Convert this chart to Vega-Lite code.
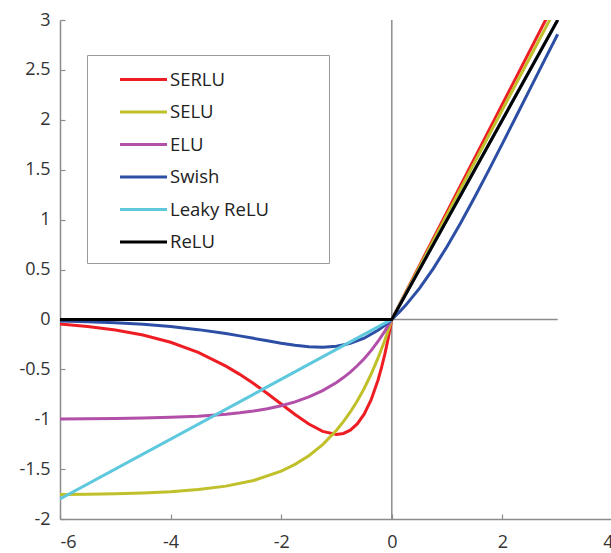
{
  "$schema": "https://vega.github.io/schema/vega-lite/v6.json",
  "autosize": {"type": "none"},
  "padding": {"left": 60, "top": 20, "right": 0, "bottom": 34},
  "width": 553,
  "height": 499,
  "background": "white",
  "config": {
    "view": {"stroke": null},
    "axis": {"grid": false, "domainColor": "#8c8c8c", "domainWidth": 1.5, "tickColor": "#8c8c8c", "tickWidth": 1.2, "tickSize": -5, "labelFont": "Open Sans", "labelFontSize": 18, "labelColor": "#333333", "title": null, "labelExpr": "toString(datum.value)"}
  },
  "datasets": {
    "curves": [
      {"fn": "SERLU", "x": -6, "y": -0.0466}, {"fn": "SERLU", "x": -5.5, "y": -0.0704}, {"fn": "SERLU", "x": -5, "y": -0.1055}, {"fn": "SERLU", "x": -4.5, "y": -0.1566}, {"fn": "SERLU", "x": -4, "y": -0.2295}, {"fn": "SERLU", "x": -3.5, "y": -0.3311}, {"fn": "SERLU", "x": -3, "y": -0.4679}, {"fn": "SERLU", "x": -2.75, "y": -0.5507}, {"fn": "SERLU", "x": -2.5, "y": -0.6429}, {"fn": "SERLU", "x": -2.25, "y": -0.7429}, {"fn": "SERLU", "x": -2, "y": -0.8479}, {"fn": "SERLU", "x": -1.75, "y": -0.9526}, {"fn": "SERLU", "x": -1.5, "y": -1.0485}, {"fn": "SERLU", "x": -1.25, "y": -1.1219}, {"fn": "SERLU", "x": -1, "y": -1.1524}, {"fn": "SERLU", "x": -0.875, "y": -1.1426}, {"fn": "SERLU", "x": -0.75, "y": -1.1098}, {"fn": "SERLU", "x": -0.625, "y": -1.048}, {"fn": "SERLU", "x": -0.5, "y": -0.95}, {"fn": "SERLU", "x": -0.375, "y": -0.8074}, {"fn": "SERLU", "x": -0.25, "y": -0.6099}, {"fn": "SERLU", "x": -0.1875, "y": -0.4869}, {"fn": "SERLU", "x": -0.125, "y": -0.3456}, {"fn": "SERLU", "x": -0.0625, "y": -0.1839}, {"fn": "SERLU", "x": 0, "y": 0}, {"fn": "SERLU", "x": 3, "y": 3.2359},
      {"fn": "SELU", "x": -6, "y": -1.7537}, {"fn": "SELU", "x": -5.5, "y": -1.7509}, {"fn": "SELU", "x": -5, "y": -1.7463}, {"fn": "SELU", "x": -4.5, "y": -1.7386}, {"fn": "SELU", "x": -4, "y": -1.7259}, {"fn": "SELU", "x": -3.5, "y": -1.705}, {"fn": "SELU", "x": -3, "y": -1.6706}, {"fn": "SELU", "x": -2.5, "y": -1.6138}, {"fn": "SELU", "x": -2, "y": -1.5202}, {"fn": "SELU", "x": -1.75, "y": -1.4526}, {"fn": "SELU", "x": -1.5, "y": -1.3658}, {"fn": "SELU", "x": -1.25, "y": -1.2544}, {"fn": "SELU", "x": -1, "y": -1.1113}, {"fn": "SELU", "x": -0.875, "y": -1.0252}, {"fn": "SELU", "x": -0.75, "y": -0.9276}, {"fn": "SELU", "x": -0.625, "y": -0.8171}, {"fn": "SELU", "x": -0.5, "y": -0.6918}, {"fn": "SELU", "x": -0.375, "y": -0.5498}, {"fn": "SELU", "x": -0.25, "y": -0.3889}, {"fn": "SELU", "x": -0.125, "y": -0.2066}, {"fn": "SELU", "x": -0.0625, "y": -0.1065}, {"fn": "SELU", "x": 0, "y": 0}, {"fn": "SELU", "x": 3, "y": 3.1521},
      {"fn": "ELU", "x": -6, "y": -0.9975}, {"fn": "ELU", "x": -5.5, "y": -0.9959}, {"fn": "ELU", "x": -5, "y": -0.9933}, {"fn": "ELU", "x": -4.5, "y": -0.9889}, {"fn": "ELU", "x": -4, "y": -0.9817}, {"fn": "ELU", "x": -3.5, "y": -0.9698}, {"fn": "ELU", "x": -3, "y": -0.9502}, {"fn": "ELU", "x": -2.75, "y": -0.9361}, {"fn": "ELU", "x": -2.5, "y": -0.9179}, {"fn": "ELU", "x": -2.25, "y": -0.8946}, {"fn": "ELU", "x": -2, "y": -0.8647}, {"fn": "ELU", "x": -1.75, "y": -0.8262}, {"fn": "ELU", "x": -1.5, "y": -0.7769}, {"fn": "ELU", "x": -1.25, "y": -0.7135}, {"fn": "ELU", "x": -1, "y": -0.6321}, {"fn": "ELU", "x": -0.875, "y": -0.5831}, {"fn": "ELU", "x": -0.75, "y": -0.5276}, {"fn": "ELU", "x": -0.625, "y": -0.4647}, {"fn": "ELU", "x": -0.5, "y": -0.3935}, {"fn": "ELU", "x": -0.375, "y": -0.3127}, {"fn": "ELU", "x": -0.25, "y": -0.2212}, {"fn": "ELU", "x": -0.125, "y": -0.1175}, {"fn": "ELU", "x": 0, "y": 0}, {"fn": "ELU", "x": 3, "y": 3},
      {"fn": "Swish", "x": -6, "y": -0.0148}, {"fn": "Swish", "x": -5.5, "y": -0.0224}, {"fn": "Swish", "x": -5, "y": -0.0335}, {"fn": "Swish", "x": -4.5, "y": -0.0494}, {"fn": "Swish", "x": -4, "y": -0.0719}, {"fn": "Swish", "x": -3.5, "y": -0.1026}, {"fn": "Swish", "x": -3, "y": -0.1423}, {"fn": "Swish", "x": -2.75, "y": -0.1652}, {"fn": "Swish", "x": -2.5, "y": -0.1896}, {"fn": "Swish", "x": -2.25, "y": -0.2145}, {"fn": "Swish", "x": -2, "y": -0.2384}, {"fn": "Swish", "x": -1.75, "y": -0.2591}, {"fn": "Swish", "x": -1.5, "y": -0.2736}, {"fn": "Swish", "x": -1.25, "y": -0.2784}, {"fn": "Swish", "x": -1, "y": -0.2689}, {"fn": "Swish", "x": -0.75, "y": -0.2406}, {"fn": "Swish", "x": -0.5, "y": -0.1888}, {"fn": "Swish", "x": -0.25, "y": -0.1095}, {"fn": "Swish", "x": -0.125, "y": -0.0586}, {"fn": "Swish", "x": 0, "y": 0}, {"fn": "Swish", "x": 0.125, "y": 0.0664}, {"fn": "Swish", "x": 0.25, "y": 0.1405}, {"fn": "Swish", "x": 0.5, "y": 0.3112}, {"fn": "Swish", "x": 0.75, "y": 0.5094}, {"fn": "Swish", "x": 1, "y": 0.7311}, {"fn": "Swish", "x": 1.25, "y": 0.9716}, {"fn": "Swish", "x": 1.5, "y": 1.2264}, {"fn": "Swish", "x": 1.75, "y": 1.4909}, {"fn": "Swish", "x": 2, "y": 1.7616}, {"fn": "Swish", "x": 2.25, "y": 2.0355}, {"fn": "Swish", "x": 2.5, "y": 2.3104}, {"fn": "Swish", "x": 2.75, "y": 2.5848}, {"fn": "Swish", "x": 3, "y": 2.8577},
      {"fn": "Leaky ReLU", "x": -6, "y": -1.8}, {"fn": "Leaky ReLU", "x": 0, "y": 0}, {"fn": "Leaky ReLU", "x": 3, "y": 3},
      {"fn": "ReLU", "x": -6, "y": 0}, {"fn": "ReLU", "x": 0, "y": 0}, {"fn": "ReLU", "x": 3, "y": 3}
    ],
    "hzero": [{"x": -6, "x2": 3, "y": 0}],
    "vzero": [{"x": 0, "y": -2, "y2": 3}]
  },
  "layer": [
    {
      "data": {"name": "hzero"},
      "mark": {"type": "rule", "color": "#8c8c8c", "strokeWidth": 1.5},
      "encoding": {
        "x": {"field": "x", "type": "quantitative", "scale": {"domain": [-6, 4]}, "axis": {"values": [-6, -4, -2, 0, 2, 4], "labelPadding": 19}},
        "x2": {"field": "x2"},
        "y": {"field": "y", "type": "quantitative", "scale": {"domain": [-2, 3]}, "axis": {"values": [-2, -1.5, -1, -0.5, 0, 0.5, 1, 1.5, 2, 2.5, 3], "labelPadding": 15}}
      }
    },
    {
      "data": {"name": "vzero"},
      "mark": {"type": "rule", "color": "#8c8c8c", "strokeWidth": 1.5},
      "encoding": {
        "x": {"field": "x", "type": "quantitative"},
        "y": {"field": "y", "type": "quantitative"},
        "y2": {"field": "y2"}
      }
    },
    {
      "data": {"name": "curves"},
      "mark": {"type": "line", "strokeWidth": 3, "clip": true},
      "encoding": {
        "x": {"field": "x", "type": "quantitative"},
        "y": {"field": "y", "type": "quantitative"},
        "color": {
          "field": "fn", "type": "nominal",
          "scale": {"domain": ["SERLU", "SELU", "ELU", "Swish", "Leaky ReLU", "ReLU"], "range": ["#ee1d23", "#c0c02a", "#b24fa8", "#2d4ea5", "#5ec8dd", "#000000"]},
          "legend": {"orient": "none", "legendX": 27, "legendY": 35, "title": null, "symbolType": "M-2,0H2", "symbolSize": 552, "symbolStrokeWidth": 3, "symbolOffset": 32, "labelOffset": 13, "labelFont": "Open Sans", "labelFontSize": 18.5, "labelColor": "#222222", "labelExpr": "datum.label + '\u00a0\u00a0\u00a0\u00a0\u00a0\u00a0\u00a0\u00a0\u00a0\u00a0\u200b'", "strokeColor": "#9a9a9a", "fillColor": "white", "padding": 11, "rowPadding": 9.5}
        }
      }
    }
  ]
}
